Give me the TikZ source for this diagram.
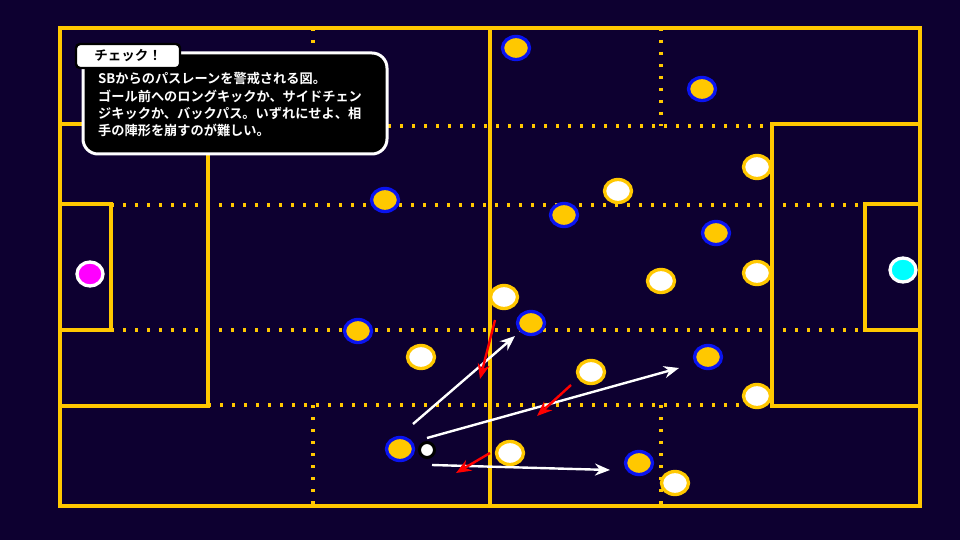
\documentclass[tikz,border=0pt]{standalone}
\usepackage{fontspec}
\newfontfamily\jp{Noto Sans CJK JP Bold}
\newfontfamily\jpb{Noto Sans CJK JP Bold}
\usetikzlibrary{shapes.geometric,arrows.meta}
\definecolor{bg}{RGB}{13,0,48}
\definecolor{fieldy}{RGB}{255,200,0}
\definecolor{ringblue}{RGB}{10,20,240}
\definecolor{gkmag}{RGB}{255,0,255}
\definecolor{gkcyan}{RGB}{0,255,255}
\definecolor{arrred}{RGB}{255,0,0}
\begin{document}
\begin{tikzpicture}[x=1pt,y=-1pt,
  fline/.style={draw=fieldy, line width=3.2pt},
  dotline/.style={draw=fieldy, line width=3.2pt, dash pattern=on 3.2pt off 8.8pt},
  teamA/.style={ellipse, draw=ringblue, fill=fieldy, line width=3.3pt, minimum width=27pt, minimum height=23pt, inner sep=0pt},
  teamB/.style={ellipse, draw=fieldy, fill=white, line width=3.3pt, minimum width=27pt, minimum height=23pt, inner sep=0pt},
  keeper/.style={ellipse, draw=white, line width=3.3pt, minimum width=26pt, minimum height=24pt, inner sep=0pt},
  ballst/.style={circle, draw=black, fill=white, line width=3pt, minimum size=15pt, inner sep=0pt},
  passarrow/.style={draw=white, line width=2.4pt, -{Stealth[length=15pt,width=12pt]}},
  pressarrow/.style={draw=arrred, line width=2.4pt, -{Stealth[length=15pt,width=12pt]}}]
\fill[bg] (0,0) rectangle (960,540);
\useasboundingbox (0,0) rectangle (960,540);
% field
\draw[dotline] (208,126) -- (772,126);
\draw[dotline] (111,205) -- (865,205);
\draw[dotline] (111,330) -- (865,330);
\draw[dotline] (208,405) -- (772,405);
\draw[dotline] (313,28) -- (313,126);
\draw[dotline] (313,405) -- (313,506);
\draw[dotline] (661,28) -- (661,126);
\draw[dotline] (661,405) -- (661,506);
\draw[fline] (60,28) rectangle (920,506);
\draw[fline] (490,28) -- (490,506);
\draw[fline] (60,124) -| (208,406) -- (60,406);
\draw[fline] (60,204) -| (111,330) -- (60,330);
\draw[fline] (920,124) -| (772,406) -- (920,406);
\draw[fline] (920,204) -| (865,330) -- (920,330);
% keepers
\node[keeper, fill=gkmag] (gkL) at (90,274) {};
\node[keeper, fill=gkcyan] (gkR) at (903,270) {};
% team A
\node[teamA] (a1) at (516,48) {};
\node[teamA] (a2) at (702,89) {};
\node[teamA] (a3) at (385,200) {};
\node[teamA] (a4) at (564,215) {};
\node[teamA] (a5) at (716,233) {};
\node[teamA] (a6) at (358,331) {};
\node[teamA] (a7) at (531,323) {};
\node[teamA] (a8) at (708,357) {};
\node[teamA] (a9) at (400,449) {};
\node[teamA] (a10) at (639,463) {};
% team B
\node[teamB] (b1) at (757,167) {};
\node[teamB] (b2) at (618,191) {};
\node[teamB] (b3) at (661,281) {};
\node[teamB] (b4) at (757,273) {};
\node[teamB] (b5) at (504,297) {};
\node[teamB] (b6) at (421,357) {};
\node[teamB] (b7) at (591,372) {};
\node[teamB] (b8) at (757,396) {};
\node[teamB] (b9) at (510,453) {};
\node[teamB] (b10) at (675,483) {};
% ball
\node[ballst] (ball) at (427,450) {};
% pass arrows
\coordinate (p1s) at (413,424); \coordinate (p1e) at (515,336);
\coordinate (p2s) at (427,438); \coordinate (p2e) at (679,368);
\coordinate (p3s) at (432,465); \coordinate (p3e) at (610,470);
\draw[passarrow] (p1s) -- (p1e);
\draw[passarrow] (p2s) -- (p2e);
\draw[passarrow] (p3s) -- (p3e);
% pressure arrows
\coordinate (r1s) at (495,320); \coordinate (r1e) at (480,379);
\coordinate (r2s) at (571,385); \coordinate (r2e) at (537,416);
\coordinate (r3s) at (490,453); \coordinate (r3e) at (456,473);
\draw[pressarrow] (r1s) -- (r1e);
\draw[pressarrow] (r2s) -- (r2e);
\draw[pressarrow] (r3s) -- (r3e);
% callout
\draw[draw=white, fill=black, line width=3pt, rounded corners=15pt] (83,53) rectangle (387,154);
\node[fill=white, draw=black, line width=2.4pt, rounded corners=4pt, minimum width=104pt, minimum height=24pt, inner sep=0pt, font=\jpb\fontsize{13.5}{15}\selectfont] (tab) at (128,56) {チェック！};
\node[anchor=north west, inner sep=0pt, align=left, text=white, font=\jp\fontsize{13.2}{17.2}\selectfont] (body) at (98,72.5) {SBからのパスレーンを警戒される図。\\ゴール前へのロングキックか、サイドチェン\\ジキックか、バックパス。いずれにせよ、相\\手の陣形を崩すのが難しい。};
\end{tikzpicture}
\end{document}
